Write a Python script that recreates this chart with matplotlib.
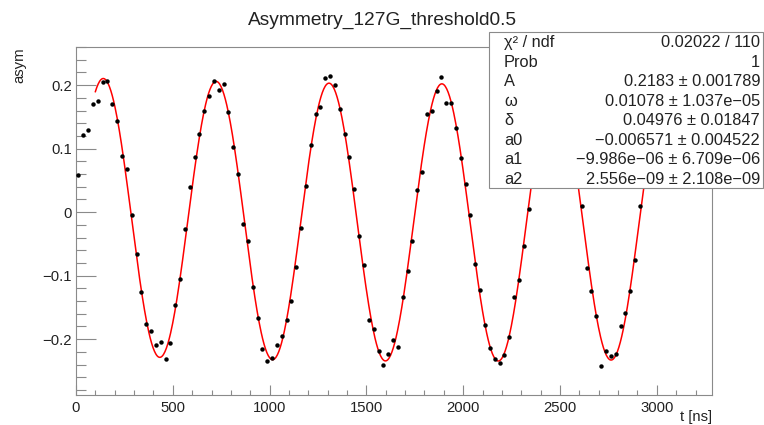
import numpy as np
import matplotlib
matplotlib.use("Agg")
import matplotlib.pyplot as plt
from matplotlib.patches import Rectangle
from matplotlib.ticker import MultipleLocator, FuncFormatter

plt.rcParams['font.family'] = ['Liberation Sans', 'DejaVu Sans']

# bin centres (25 ns bins) and measured asymmetry
t_ns = np.arange(12.5, 3000, 25)
asym = [0.058, 0.121, 0.129, 0.171, 0.175, 0.205, 0.206, 0.170, 0.143, 0.089,
        0.068, -0.005, -0.066, -0.126, -0.176, -0.188, -0.210, -0.204, -0.231, -0.206,
        -0.146, -0.106, -0.026, 0.040, 0.086, 0.123, 0.159, 0.183, 0.207, 0.193,
        0.201, 0.157, 0.102, 0.060, -0.018, -0.046, -0.118, -0.167, -0.215, -0.234,
        -0.229, -0.210, -0.195, -0.170, -0.140, -0.086, -0.025, 0.041, 0.105, 0.155,
        0.165, 0.211, 0.215, 0.200, 0.162, 0.123, 0.086, 0.036, -0.037, -0.083,
        -0.170, -0.184, -0.218, -0.241, -0.224, -0.202, -0.213, -0.134, -0.093, -0.045,
        0.035, 0.063, 0.155, 0.160, 0.191, 0.212, 0.172, 0.172, 0.132, 0.085,
        0.044, -0.005, -0.081, -0.122, -0.178, -0.214, -0.231, -0.238, -0.225, -0.196,
        -0.134, -0.107, -0.054, 0.005, 0.066, 0.117, 0.158, 0.187, 0.201, 0.199,
        0.183, 0.152, 0.108, 0.056, 0.010, -0.088, -0.124, -0.163, -0.243, -0.219,
        -0.226, -0.224, -0.179, -0.159, -0.124, -0.075, 0.010, 0.060, 0.104, 0.148]

# fit result (as printed in the stats box)
fit_A = 0.2183
fit_w = 0.01078
fit_d = 0.04976
fit_a0 = -0.006571
fit_a1 = -9.986e-06
fit_a2 = 2.556e-09
fit_range = (100, 3000)

stat_names = ["χ² / ndf", "Prob", "A", "ω", "δ", "a0", "a1", "a2"]
stat_vals = ["0.02022 / 110", "1", "0.2183 ± 0.001789", "0.01078 ± 1.037e−05",
             "0.04976 ± 0.01847", "−0.006571 ± 0.004522",
             "−9.986e−06 ± 6.709e−06", "2.556e−09 ± 2.108e−09"]

W, H = 764, 425
fig = plt.figure(figsize=(W / 100, H / 100), dpi=100)
ax = fig.add_axes([76 / W, 1 - 395 / H, (712 - 76) / W, (395 - 47) / H])

tf = np.linspace(fit_range[0], fit_range[1], 800)
yf = fit_A * np.sin(fit_w * tf + fit_d) + fit_a0 + fit_a1 * tf + fit_a2 * tf ** 2
ax.plot(tf, yf, color='red', lw=1.1, zorder=2)
ax.plot(t_ns, asym, 'o', color='black', ms=3.2, mew=0, zorder=3)

ax.set_xlim(0, 3285)
ax.set_ylim(-0.288, 0.26)

gray = '#8a8a8a'
for s in ax.spines.values():
    s.set_color(gray)
    s.set_linewidth(0.8)

ax.xaxis.set_major_locator(MultipleLocator(500))
ax.xaxis.set_minor_locator(MultipleLocator(100))
ax.yaxis.set_major_locator(MultipleLocator(0.1))
ax.yaxis.set_minor_locator(MultipleLocator(0.02))
ax.yaxis.set_major_formatter(FuncFormatter(
    lambda v, p: '0' if abs(v) < 1e-9 else f'{v:.1f}'.replace('-', '\u2212')))

ax.tick_params(axis='both', which='both', direction='in', color=gray, width=0.8,
               labelsize=10.7, labelcolor='#222222', top=False, right=False)
ax.tick_params(axis='y', which='major', length=14.4, pad=3)
ax.tick_params(axis='y', which='minor', length=7.2)
ax.tick_params(axis='x', which='major', length=7.2, pad=4)
ax.tick_params(axis='x', which='minor', length=3.6)

fig.text(0.5, 1 - 25 / H, "Asymmetry_127G_threshold0.5", ha='center', va='baseline',
         fontsize=13.8, color='#222222')
fig.text(19 / W, 1 - 47 / H, "asym", rotation=90, ha='center', va='top',
         fontsize=10.7, color='#222222')
fig.text(712 / W, 4 / H, "t [ns]", ha='right', va='baseline', fontsize=10.7,
         color='#222222')

# stats box
fig.patches.append(Rectangle((489 / W, 1 - 188 / H), (763 - 489) / W, (188 - 32) / H,
                             transform=fig.transFigure, facecolor='white',
                             edgecolor=gray, lw=0.8, zorder=5))
for i, (nm, vl) in enumerate(zip(stat_names, stat_vals)):
    yy = 1 - (42.7 + 19.5 * i) / H
    fig.text(504 / W, yy, nm, ha='left', va='center', fontsize=11.8, color='#222222', zorder=6)
    fig.text(760 / W, yy, vl, ha='right', va='center', fontsize=11.8, color='#222222', zorder=6)

fig.savefig("out.png", dpi=100)
